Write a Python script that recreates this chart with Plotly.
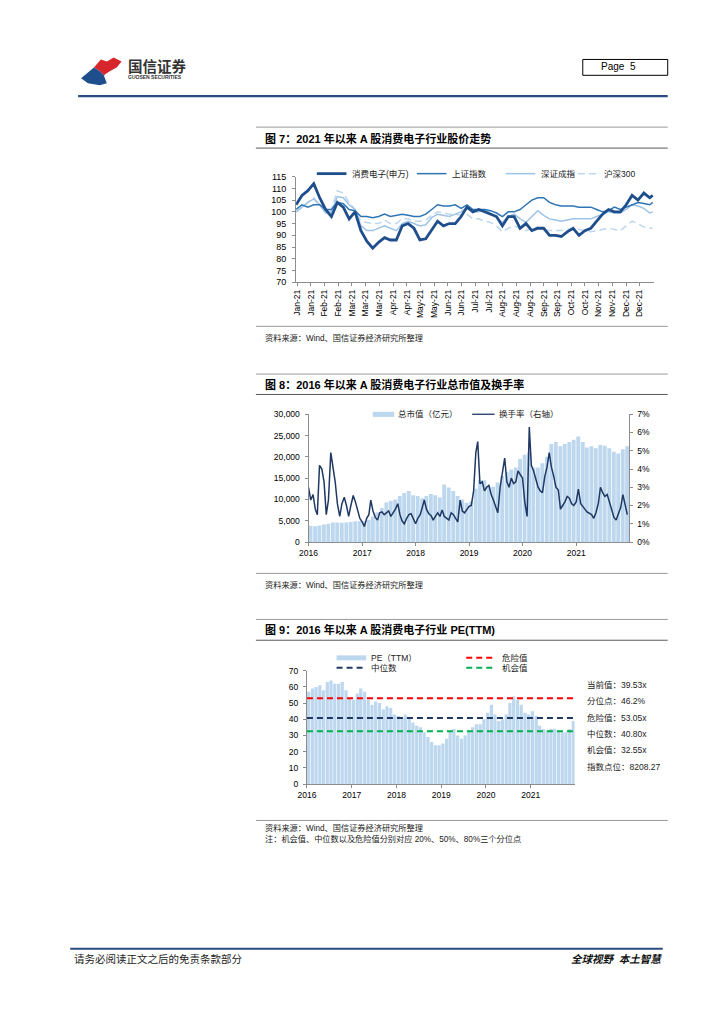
import plotly.graph_objects as go
import pandas as pd

W, H = 724, 1024
def px(x): return x / W
def py(y): return 1 - y / H

FONT = "Liberation Sans, Arial, Noto Sans CJK SC, sans-serif"

# ---------------- Chart 1 data (2021, index = 100) ----------------
c1_days = list(range(0, 241, 4)) + [242]
c1_tick_labels = ["Jan-21", "Jan-21", "Feb-21", "Feb-21", "Mar-21", "Mar-21", "Mar-21", "Apr-21", "Apr-21",
                  "May-21", "May-21", "Jun-21", "Jun-21", "Jul-21", "Jul-21", "Aug-21", "Aug-21", "Aug-21",
                  "Sep-21", "Sep-21", "Oct-21", "Oct-21", "Nov-21", "Nov-21", "Dec-21", "Dec-21"]
consumer_elec = [103, 107, 109, 112, 106, 101, 98, 104, 102, 97, 100, 92, 87.5, 84.5, 87, 89, 88, 88, 94, 95,
                 93, 88, 88.5, 92, 96, 94, 95, 95, 98, 102, 100, 101, 100, 99, 98, 94, 98, 98, 93, 95,
                 92, 93, 93, 90, 90, 89.5, 91.5, 93, 90, 92, 93, 96, 99, 101, 100, 100, 103, 107, 105, 108,
                 106, 107]
sh_index = [101, 103, 102, 103, 103, 101, 101, 104, 103.5, 101, 100.5, 98, 98, 97.5, 98, 99, 98, 98.5, 99, 98.5,
            98, 98, 99, 101, 103, 102.5, 102.5, 103, 101.5, 103, 101, 101, 101, 100.5, 99.5, 98, 100, 100, 101, 103,
            105, 106, 106, 104, 103, 102.5, 102.5, 102.5, 102, 102, 102, 101, 100, 100.5, 102, 101, 102, 103, 104, 103.5,
            103, 104]
sz_index = [100, 102, 104, 105.5, 103, 99.5, 100, 106.5, 106, 103, 101, 94, 92, 92, 93, 94, 93, 92, 95, 96,
            95, 94, 94.5, 97.5, 99, 98.5, 98, 99, 100, 102, 100, 100, 101, 99.5, 97.5, 95.5, 98, 99, 97, 95.5,
            98, 100.5, 98.5, 97, 96.5, 96, 96.5, 97, 97, 97, 97, 98, 99, 100, 99.5, 99.5, 101, 103, 102.5, 101.5,
            99.5, 100]
hs300 = [100, 102, 104, 106, 103, 100, 101, 109, 108, 104, 101, 96, 95.5, 95, 95, 96.5, 95, 95, 97, 97,
         96, 96, 96.5, 98.5, 100, 99.5, 99, 99, 98.5, 99, 97, 97, 96, 95.5, 94, 91.5, 93, 94, 93, 92,
         93, 93.5, 92, 92, 92, 92, 92.5, 93, 92.5, 92, 91.5, 92, 92.5, 93, 92.5, 92, 94, 96, 95, 93.5,
         93, 93]
c1_names = ["消费电子(申万)", "上证指数", "深证成指", "沪深300"]

# ---------------- Chart 2 data (monthly market cap, semi-monthly turnover) ----------------
years = ["2016", "2017", "2018", "2019", "2020", "2021"]
mkt_cap = [3800, 3700, 3900, 4100, 4300, 4600, 4600, 4500, 4600, 4700, 4900, 4900,
           4900, 5200, 6000, 7000, 8000, 9300, 9700, 10000, 10800, 11500, 12000, 11000,
           10800, 10300, 10800, 11300, 11000, 10500, 13500, 12800, 12000, 10800, 10000, 9200,
           9500, 12500, 14500, 14500, 13000, 13000, 14000, 15500, 16500, 17000, 17500, 19500,
           20500, 21000, 17500, 17500, 18500, 20000, 23000, 23500, 22500, 23000, 23500, 24000,
           24800, 23500, 22200, 22500, 22000, 22800, 22600, 22000, 21200, 20800, 21800, 22500]
turnover = [3.0, 2.3, 2.6, 1.8, 1.5, 4.2, 4.0, 3.3, 1.5, 2.3, 4.9, 4.2, 3.3, 2.1, 1.4, 2.1, 2.45, 2.0, 1.4, 2.0, 2.55, 2.2, 1.75, 1.3,
            1.1, 0.85, 1.3, 1.5, 2.3, 1.7, 1.35, 1.2, 1.6, 1.65, 1.5, 1.6, 1.7, 1.4, 1.6, 1.8, 2.1, 1.5, 1.15, 1.0, 1.3, 1.5, 1.55, 1.3,
            1.0, 1.3, 1.5, 1.9, 2.3, 1.8, 1.55, 1.45, 1.2, 1.4, 1.6, 1.4, 1.75, 1.4, 1.3, 1.2, 1.6, 1.5, 1.3, 1.1, 2.3, 1.7, 1.6, 1.8,
            1.95, 2.0, 2.8, 4.9, 5.5, 3.2, 3.3, 2.8, 3.0, 3.1, 2.6, 2.3, 2.0, 1.6, 3.0, 3.8, 4.6, 3.3, 3.0, 3.5, 3.2, 3.3, 3.9, 3.7,
            3.5, 2.2, 1.4, 6.3, 4.2, 3.9, 3.5, 3.0, 2.8, 2.7, 3.6, 4.1, 4.9, 4.1, 3.6, 3.0, 2.85, 1.8, 2.0, 2.2, 2.5, 2.4, 2.1, 2.0,
            2.2, 2.9, 2.1, 1.9, 1.8, 1.65, 1.55, 1.5, 1.3, 1.6, 2.1, 3.0, 2.7, 2.5, 2.6, 2.2, 1.8, 1.35, 1.2, 1.5, 1.9, 2.6, 2.0, 1.5]
c2_names = ["总市值（亿元）", "换手率（右轴）"]

# ---------------- Chart 3 data (monthly PE TTM) ----------------
pe_ttm = [57, 59, 60, 61, 58, 63, 64, 62, 62, 63, 58, 53,
          52, 56, 59, 57, 52, 49, 51, 50, 46, 48, 47, 43,
          42, 41, 43, 41, 38, 36, 35, 32, 29, 26, 24, 24,
          25, 28, 33, 34, 30, 28, 30, 33, 35, 37, 37, 40,
          44, 49, 43, 39, 40, 43, 50, 54, 52, 49, 44, 43,
          45, 42, 36, 34, 33, 34, 34, 33, 32, 32, 34, 39]
pe_levels = [53.05, 40.80, 32.55]
pe_level_names = ["危险值", "中位数", "机会值"]
pe_info_labels = ["当前值", "分位点", "危险值", "中位数", "机会值", "指数点位"]
pe_info_values = ["39.53x", "46.2%", "53.05x", "40.80x", "32.55x", "8208.27"]

# axis positions (dates)
month_mid = [d + pd.Timedelta(days=14) for d in pd.date_range("2016-01-01", periods=72, freq="MS")]
semi_month = []
for d in pd.date_range("2016-01-01", periods=72, freq="MS"):
    semi_month.append(d)
    semi_month.append(d + pd.Timedelta(days=15))
year_ticks = [f"{y}-01-01" for y in years]

# ---------------- colors ----------------
C_DARK = "#1F4E8C"
C_MID = "#2E75B6"
C_LIGHT = "#9DC3E6"
C_PALE = "#BDD7EE"
C_NAVY = "#1F3864"
C_BAR = "#BDD7EE"
AX = "#8C8C8C"
pe_level_colors = ["#FF0000", "#1F3864", "#00B050"]

fig = go.Figure()

# chart 1 traces
c1_series = [consumer_elec, sh_index, sz_index, hs300]
c1_styles = [dict(color=C_DARK, width=2.8), dict(color=C_MID, width=1.5),
             dict(color=C_LIGHT, width=1.5), dict(color=C_PALE, width=1.5, dash="7px,4px")]
order = [3, 2, 1, 0]
for i in order:
    fig.add_trace(go.Scatter(x=c1_days, y=c1_series[i], mode="lines", name=c1_names[i],
                             line=c1_styles[i], xaxis="x", yaxis="y"))

# chart 2 traces
fig.add_trace(go.Bar(x=month_mid, y=mkt_cap, name=c2_names[0], marker=dict(color=C_BAR, line=dict(width=0)),
                     xaxis="x2", yaxis="y2"))
fig.add_trace(go.Scatter(x=semi_month, y=turnover, mode="lines", name=c2_names[1],
                         line=dict(color=C_NAVY, width=1.5), xaxis="x2", yaxis="y3"))

# chart 3 traces
fig.add_trace(go.Bar(x=month_mid, y=pe_ttm, name="PE（TTM）", marker=dict(color=C_BAR, line=dict(width=0)),
                     xaxis="x3", yaxis="y4"))
for v, n, c in zip(pe_levels, pe_level_names, pe_level_colors):
    fig.add_trace(go.Scatter(x=["2016-01-01", "2021-12-25"], y=[v, v], mode="lines", name=n,
                             line=dict(color=c, width=2, dash="6px,4px"), xaxis="x3", yaxis="y4"))

tickfont = dict(family=FONT, size=9, color="#000")
tickfont_s = dict(family=FONT, size=8.5, color="#000")
common = dict(showgrid=False, zeroline=False, showline=True, linecolor=AX, linewidth=1,
              ticks="outside", ticklen=3, tickcolor=AX)

fig.update_layout(
    width=W, height=H, margin=dict(l=0, r=0, t=0, b=0),
    paper_bgcolor="white", plot_bgcolor="white", showlegend=False,
    bargap=0.06,
    xaxis=dict(domain=[px(290.7), px(653.3)], range=[0, 243], anchor="y",
               tickvals=[0.7 + 9.3 * i for i in range(len(c1_tick_labels))], ticktext=c1_tick_labels,
               tickangle=-90, tickfont=dict(family=FONT, size=8.5, color="#000"), **common),
    yaxis=dict(domain=[py(280), py(173.3)], range=[70, 115], dtick=5, anchor="x",
               tickfont=tickfont, ticklabelstandoff=4, **common),
    xaxis2=dict(domain=[px(303.3), px(628.3)], type="date", range=["2016-01-01", "2021-12-31"], anchor="y2",
                tickvals=year_ticks, ticktext=years, tickfont=tickfont_s, **common),
    yaxis2=dict(domain=[py(542.3), py(413.3)], range=[0, 30000], dtick=5000, tickformat=",d", anchor="x2",
                tickfont=tickfont_s, ticklabelstandoff=3, **common),
    yaxis3=dict(range=[0, 7], dtick=1, ticksuffix="%", overlaying="y2", side="right", anchor="x2",
                tickfont=tickfont_s, ticklabelstandoff=2, **common),
    xaxis3=dict(domain=[px(301.7), px(572.7)], type="date", range=["2016-01-01", "2021-12-25"], anchor="y4",
                tickvals=year_ticks, ticktext=years, tickfont=tickfont_s, **common),
    yaxis4=dict(domain=[py(786.7), py(672.3)], range=[0, 70], dtick=10, anchor="x3",
                tickfont=tickfont_s, ticklabelstandoff=3, **common),
)

shapes = []
annotations = []

def hline(x0, x1, y, color, width, dash=None):
    d = dict(color=color, width=width)
    if dash:
        d["dash"] = dash
    shapes.append(dict(type="line", xref="paper", yref="paper", x0=px(x0), x1=px(x1), y0=py(y), y1=py(y), line=d))

def rect(x0, y0, x1, y1, fill=None, line_color=None, lw=0):
    shapes.append(dict(type="rect", xref="paper", yref="paper", x0=px(x0), x1=px(x1), y0=py(y1), y1=py(y0),
                       fillcolor=fill if fill else "rgba(0,0,0,0)",
                       line=dict(color=line_color if line_color else "rgba(0,0,0,0)", width=lw)))

def poly(pts, fill):
    p = "M " + " L ".join(f"{px(x):.5f},{py(y):.5f}" for x, y in pts) + " Z"
    shapes.append(dict(type="path", xref="paper", yref="paper", path=p, fillcolor=fill, line=dict(width=0)))

def text(x, y, s, size, color="#000", anchor="left", bold=False, italic=False, family=FONT):
    if bold:
        s = f"<b>{s}</b>"
    if italic:
        s = f"<i>{s}</i>"
    annotations.append(dict(xref="paper", yref="paper", x=px(x), y=py(y), text=s, showarrow=False,
                            xanchor=anchor, yanchor="middle", borderpad=0,
                            font=dict(size=size, color=color, family=family)))

# ---- page header ----
poly([(86, 63), (93, 55), (99, 57), (106, 53), (114, 57), (109, 63), (102, 67), (96, 71), (92, 67)], "#D7262B")
poly([(73, 74), (86, 63), (92, 67), (96, 71), (99, 79), (92, 81), (80, 79)], "#1F4E8C")
text(119, 62, "国信证券", 14.5, "#333", bold=True)
text(119, 73, "GUOSEN SECURITIES", 5, "#333", bold=True)
rect(581, 55, 667, 71, line_color="#000", lw=1)
text(598, 62.5, "Page&nbsp;&nbsp;5", 10)
hline(70, 667, 92, "#2B4C7E", 2.2)

# ---- chart 1 frame ----
hline(250, 667, 123.3, "#999999", 1)
text(258, 134.5, "图 7：2021 年以来 A 股消费电子行业股价走势", 11, bold=True)
hline(250, 667, 144.5, "#595959", 1)
leg1 = [(311.7, 341.7, 346.5), (413, 443, 448), (503, 533, 537.5), (565, 597, 601.5)]
for (x0, x1, tx), st, nm in zip(leg1, c1_styles, c1_names):
    hline(x0, x1, 170.3, st["color"], st["width"], st.get("dash"))
    text(tx, 170.3, nm, 8.5, "#222")
hline(250, 667, 324.5, "#999999", 1)
text(258, 336.5, "资料来源：Wind、国信证券经济研究所整理", 8.2, "#222")

# ---- chart 2 frame ----
hline(250, 667, 372.7, "#999999", 1)
text(258, 383, "图 8：2016 年以来 A 股消费电子行业总市值及换手率", 11, bold=True)
hline(250, 667, 393.3, "#595959", 1)
rect(368.3, 410.8, 390, 416, fill=C_BAR)
text(392.7, 413.3, c2_names[0], 8.5, "#222")
hline(469, 491.7, 413.3, C_NAVY, 1.3)
text(495, 413.3, c2_names[1], 8.5, "#222")
hline(250, 667, 574, "#999999", 1)
text(258, 585.5, "资料来源：Wind、国信证券经济研究所整理", 8.2, "#222")

# ---- chart 3 frame ----
hline(250, 667, 620.5, "#999999", 1)
text(258, 631, "图 9：2016 年以来 A 股消费电子行业 PE(TTM)", 11, bold=True)
hline(250, 667, 641.5, "#595959", 1)
rect(331.7, 656.8, 361.7, 661.8, fill=C_BAR)
text(366, 659.3, "PE（TTM）", 8.5, "#222")
leg3 = [(463, 493, 498, 659.3), (331.7, 361.7, 366, 669.3), (463, 493, 498, 669.3)]
for (x0, x1, tx, yy), n, c in zip(leg3, pe_level_names, pe_level_colors):
    hline(x0, x1, yy, c, 2, "6px,4px")
    text(tx, yy, n, 8.5, "#222")
for i, (lab, val) in enumerate(zip(pe_info_labels, pe_info_values)):
    text(584, 686.7 + 16.5 * i, f"{lab}：{val}", 8.5, "#222")
hline(250, 667, 823.5, "#999999", 1)
text(258, 831, "资料来源：Wind、国信证券经济研究所整理", 8.2, "#222")
text(258, 842, "注：机会值、中位数以及危险值分别对应 20%、50%、80%三个分位点", 8.2, "#222")

# ---- footer ----
hline(62, 662, 953, "#2B4C7E", 2)
text(65, 963.5, "请务必阅读正文之后的免责条款部分", 10.5, "#222")
text(662, 963.5, "全球视野&nbsp;&nbsp;本土智慧", 10.5, "#111", anchor="right", bold=True, italic=True)

fig.update_layout(shapes=shapes, annotations=annotations)
fig.write_html("out.html", config={"displayModeBar": False},
               post_script="document.body.style.margin='0';document.body.style.padding='0';document.body.style.overflow='hidden';")
